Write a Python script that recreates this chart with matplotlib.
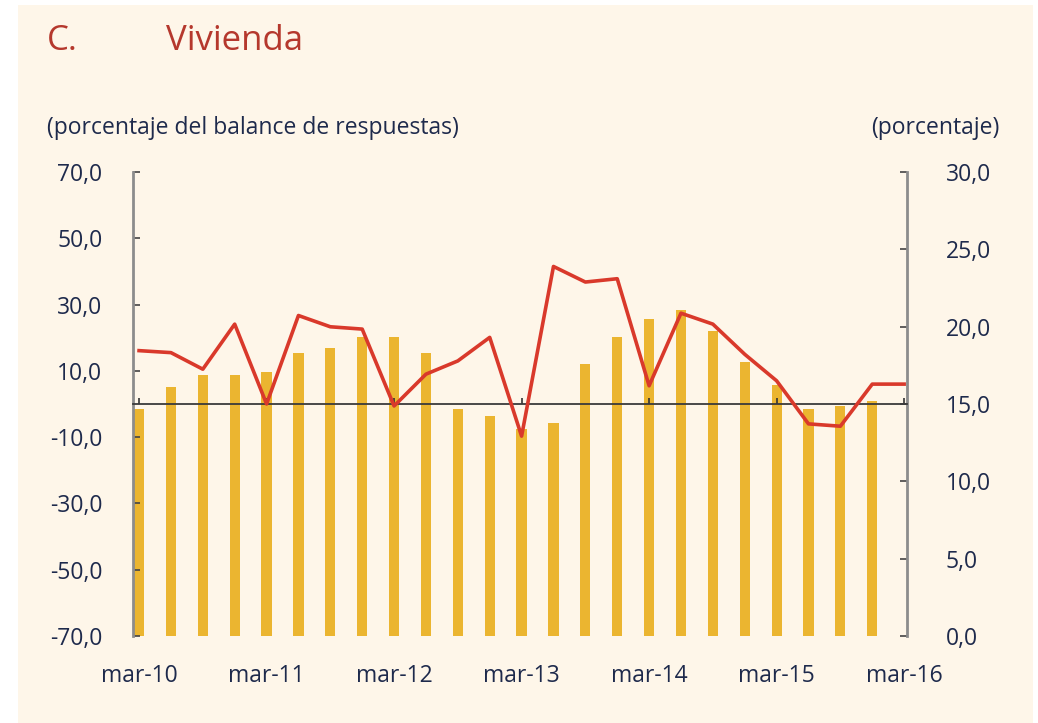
import matplotlib.pyplot as plt
from matplotlib.patches import Rectangle

# quarterly data, mar-10 .. mar-16
balance = [16.1, 15.5, 10.5, 24.1, 0.0, 26.7, 23.3, 22.6, -0.6, 9.0, 13.0, 20.1,
           -9.7, 41.5, 36.8, 37.8, 5.5, 27.4, 24.1, 15.0, 7.0, -6.0, -6.7, 6.0, 6.0]
share = [14.7, 16.1, 16.9, 16.9, 17.1, 18.3, 18.6, 19.3, 19.3, 18.3, 14.7, 14.2,
         13.4, 13.8, 17.6, 19.3, 20.5, 21.1, 19.7, 17.7, 16.2, 14.7, 14.9, 15.2]
tick_labels = ["mar-10", "mar-11", "mar-12", "mar-13", "mar-14", "mar-15", "mar-16"]
left_ticks = [-70, -50, -30, -10, 10, 30, 50, 70]
right_ticks = [0, 5, 10, 15, 20, 25, 30]

cream = "#fef6e9"
navy = "#1e2a4c"
spine_gray = "#8c8c8c"
fs = 16.5

plt.rcParams["font.family"] = ["Open Sans", "DejaVu Sans"]

fig = plt.figure(figsize=(10.38, 7.23), dpi=100, facecolor="white")
fig.patches.append(Rectangle((18 / 1038, 0), (1033 - 18) / 1038, 1 - 5 / 723,
                             transform=fig.transFigure, facecolor=cream,
                             edgecolor="none", zorder=-10))

ax = fig.add_axes([133 / 1038, 1 - 636 / 723, (907 - 133) / 1038, (636 - 172) / 723])
ax2 = ax.twinx()
ax.set_zorder(ax2.get_zorder() + 1)
ax.patch.set_visible(False)
ax2.patch.set_visible(False)

x_line = range(len(balance))
x_bar = range(len(share))

ax2.bar(x_bar, share, width=0.32, color="#ebb530", zorder=2)
ax.plot(x_line, balance, color="#d9392b", linewidth=2.6, zorder=3)

ax.set_xlim(-0.19, 24.09)
ax.set_ylim(-70, 70)
ax2.set_ylim(0, 30)

# left axis
ax.set_yticks(left_ticks)
ax.set_yticklabels([f"{v:.1f}".replace(".", ",") for v in left_ticks])
ax.tick_params(axis="y", direction="in", length=5, width=1.2, color="#444444",
               labelsize=fs, labelcolor=navy, pad=22)
# x axis sits on the zero line
ax.spines["bottom"].set_position(("data", 0))
ax.spines["bottom"].set_color("#3a3a3a")
ax.spines["bottom"].set_linewidth(1.3)
ax.set_xticks(range(0, 25, 4))
ax.tick_params(axis="x", direction="in", length=4, width=1.2, color="#333333",
               labelbottom=False)
ax.spines["left"].set_color(spine_gray)
ax.spines["left"].set_linewidth(2.0)
ax.spines["top"].set_visible(False)
ax.spines["right"].set_visible(False)

# right axis
ax2.set_yticks(right_ticks)
ax2.set_yticklabels([f"{v:.1f}".replace(".", ",") for v in right_ticks])
ax2.tick_params(axis="y", direction="in", length=5, width=1.2, color="#444444",
                labelsize=fs, labelcolor=navy, pad=28)
ax2.spines["right"].set_color(spine_gray)
ax2.spines["right"].set_linewidth(2.0)
for side in ["left", "top", "bottom"]:
    ax2.spines[side].set_visible(False)

# bottom date labels
ax2.xaxis.set_visible(True)
ax2.set_xticks(range(0, 25, 4))
ax2.set_xticklabels(tick_labels)
ax2.tick_params(axis="x", bottom=True, top=False, length=0, labelbottom=True,
                labelsize=fs, labelcolor=navy, pad=20)

fig.text(47 / 1038, 1 - 41 / 723, "C.", fontsize=25, color="#b5382d", va="center")
fig.text(166 / 1038, 1 - 41 / 723, "Vivienda", fontsize=25, color="#b5382d", va="center")
fig.text(47 / 1038, 1 - 128 / 723, "(porcentaje del balance de respuestas)",
         fontsize=fs, color=navy, va="center")
fig.text(999 / 1038, 1 - 128 / 723, "(porcentaje)", fontsize=fs, color=navy,
         va="center", ha="right")

fig.savefig("out.png", dpi=100, facecolor=fig.get_facecolor())
